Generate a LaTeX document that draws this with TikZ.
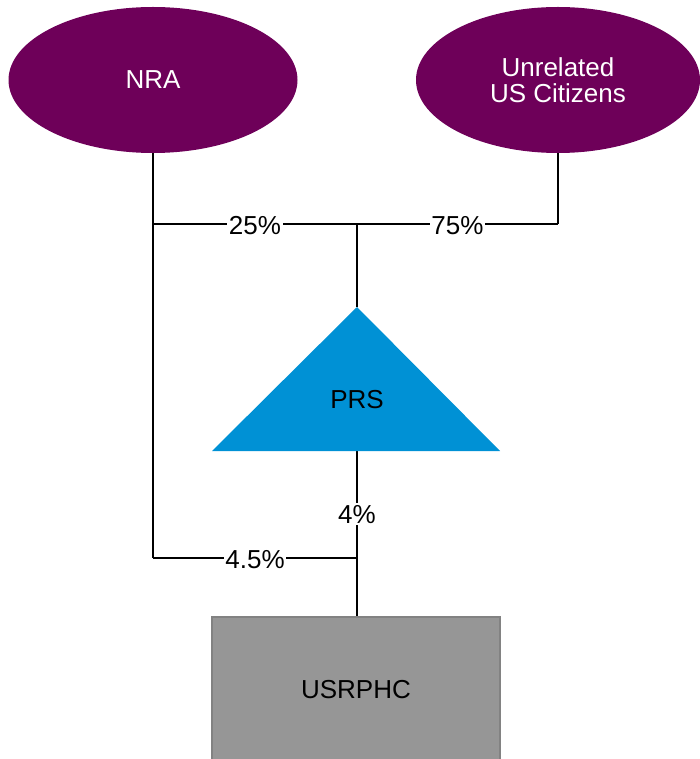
\documentclass[tikz,border=0pt]{standalone}
\usepackage{fontspec}
\setmainfont{Liberation Sans}
\usetikzlibrary{shapes.geometric}
\definecolor{plum}{HTML}{6E0059}
\definecolor{prsblue}{HTML}{0091D5}
\definecolor{boxgray}{HTML}{969696}
\definecolor{boxedge}{HTML}{828282}
\begin{document}
\begin{tikzpicture}[x=1pt,y=-1pt,
  font=\fontsize{26}{26}\selectfont,
  owner/.style={ellipse, fill=plum, text=white, minimum width=289pt, minimum height=146pt, inner sep=0pt, align=center},
  link/.style={line width=2.7pt, black},
  pct/.style={fill=white, inner sep=1.5pt, text=black},
  hpct/.style={pct, yshift=-2pt}]
\useasboundingbox (0,0) rectangle (700,759);
\clip (0,0) rectangle (700,759);
% coordinates
\coordinate (jl) at (153,224);
\coordinate (jm) at (357,224);
\coordinate (jr) at (558,224);
\coordinate (apex) at (357,307);
\coordinate (baseL) at (212,451);
\coordinate (baseR) at (500,451);
\coordinate (prsbase) at (357,451);
\coordinate (jn) at (153,558);
\coordinate (jb) at (357,558);
\coordinate (boxtop) at (357,617);
% owners
\node[owner] (nra) at (153,80) {NRA};
\node[owner, minimum width=284pt] (us) at (558,80) {Unrelated\\US Citizens};
% connectors
\draw[link] (nra.south) -- (jl) -- (jn);
\draw[link] (us.south) -- (jr);
\draw[link] (jl) -- node[hpct]{25\%} (jm);
\draw[link] (jm) -- node[hpct]{75\%} (jr);
\draw[link] (jm) -- (apex);
\draw[link] (prsbase) -- node[pct, pos=0.38]{4\%} (boxtop);
\draw[link] (jn) -- node[hpct]{4.5\%} (jb);
% PRS triangle
\fill[prsblue] (apex) -- (baseR) -- (baseL) -- cycle;
\node (prs) at (357,400) {PRS};
% USRPHC box
\draw[fill=boxgray, draw=boxedge, line width=1.5pt] (212,617) rectangle (500,800);
\node (usrphc) at (356,690) {USRPHC};
\end{tikzpicture}
\end{document}
